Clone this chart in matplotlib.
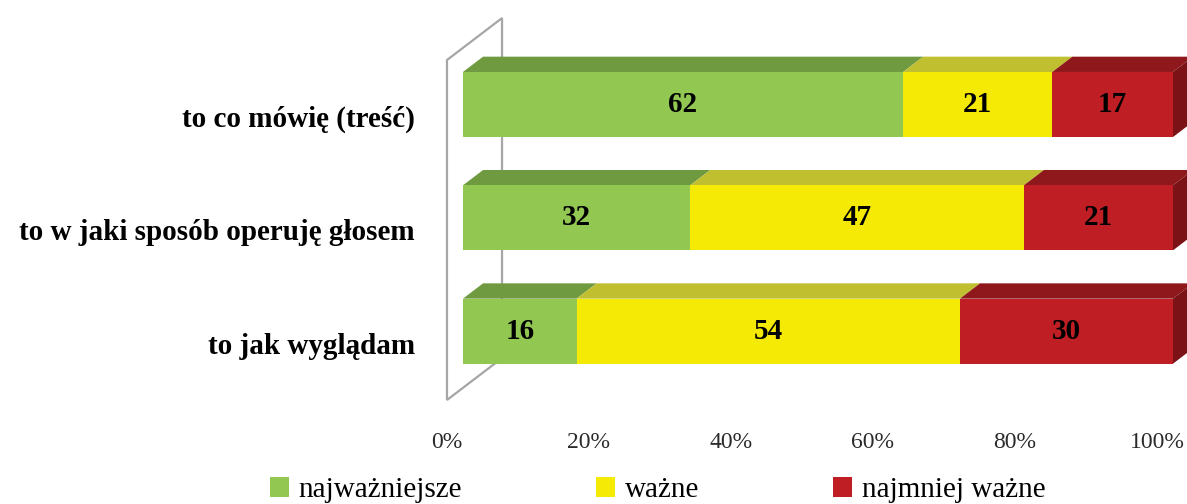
import matplotlib
matplotlib.use('Agg')
import matplotlib.pyplot as plt
from matplotlib.patches import Polygon, Patch

plt.rcParams['font.family'] = ['Liberation Serif', 'DejaVu Serif']

# data
categories = ['to co mówię (treść)', 'to w jaki sposób operuję głosem', 'to jak wyglądam']
series = ['najważniejsze', 'ważne', 'najmniej ważne']
najwazniejsze = [62, 32, 16]
wazne = [21, 47, 54]
najmniej_wazne = [17, 21, 30]
ticks = [0, 20, 40, 60, 80, 100]
tick_labels = ['0%', '20%', '40%', '60%', '80%', '100%']

# colours: front, top
front_cols = ['#92C851', '#F5EA05', '#BE1E24']
top_cols = ['#6F9A40', '#BFBF30', '#8E181C']
side_col = '#7A1216'

# 3d look (data units): full depth vector of the box, bars sit between t0..t1
Dx, Dy = 7.75, -0.37
t0, t1 = 0.29, 0.655
bar_h = 0.574

fig = plt.figure(figsize=(11.87, 5.04), dpi=100)
ax = fig.add_axes([447 / 1187, (504 - 400) / 504, 710 / 1187, 340 / 504])
ax.set_xlim(0, 100)
ax.set_ylim(2.5, -0.5)


def shift(x, y, t):
    return (x + t * Dx, y + t * Dy)


# back wall
wall = Polygon([(0, -0.5), shift(0, -0.5, 1), shift(0, 2.5, 1), (0, 2.5)], closed=True,
               facecolor='white', edgecolor='#A6A6A6', lw=1.6, zorder=1, clip_on=False)
ax.add_patch(wall)

rows = list(zip(najwazniejsze, wazne, najmniej_wazne))
for i, vals in enumerate(rows):
    top, bot = i - bar_h / 2, i + bar_h / 2
    left = 0
    for j, v in enumerate(vals):
        right = left + v
        front = [shift(left, top, t0), shift(right, top, t0), shift(right, bot, t0), shift(left, bot, t0)]
        ax.add_patch(Polygon(front, closed=True, facecolor=front_cols[j], edgecolor='none',
                             zorder=3, clip_on=False))
        topf = [shift(left, top, t0), shift(right, top, t0), shift(right, top, t1), shift(left, top, t1)]
        ax.add_patch(Polygon(topf, closed=True, facecolor=top_cols[j], edgecolor='none',
                             zorder=2, clip_on=False))
        cx, cy = shift((left + right) / 2, i, t0)
        ax.text(cx, cy, str(v), ha='center', va='center', fontsize=21, fontweight='bold',
                color='black', zorder=5)
        left = right
    side = [shift(left, top, t0), shift(left, bot, t0), shift(left, bot, t1), shift(left, top, t1)]
    ax.add_patch(Polygon(side, closed=True, facecolor=side_col, edgecolor='none',
                         zorder=2, clip_on=False))

ax.set_yticks(range(len(categories)))
ax.set_yticklabels(categories, fontsize=21, fontweight='bold')
ax.set_xticks(ticks)
ax.set_xticklabels(tick_labels, fontsize=17, color='#2b2b2b')
ax.tick_params(axis='both', length=0)
ax.tick_params(axis='y', pad=23)
ax.tick_params(axis='x', pad=23)
for s in ax.spines.values():
    s.set_visible(False)

handles = [Patch(facecolor=c, edgecolor='none') for c in front_cols]
fig.legend(handles, series, loc='center', bbox_to_anchor=(0.554, 0.027), ncol=3, frameon=False,
           fontsize=21, handlelength=0.65, handleheight=0.65, handletextpad=0.33,
           columnspacing=4.6)

fig.savefig('out.png', dpi=100)
